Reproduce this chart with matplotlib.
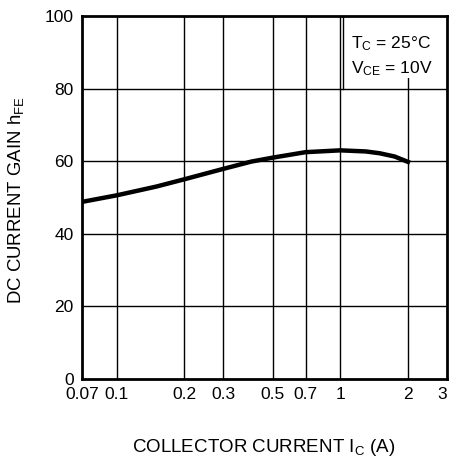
import matplotlib
matplotlib.use('Agg')
import matplotlib.pyplot as plt
from matplotlib.patches import Rectangle

plt.rcParams['font.family'] = ['Liberation Sans', 'DejaVu Sans']
plt.rcParams['mathtext.fontset'] = 'custom'
plt.rcParams['mathtext.rm'] = 'Liberation Sans'

# collector current (A) and dc current gain
ic = [0.07, 0.1, 0.15, 0.2, 0.3, 0.4, 0.5, 0.7, 1.0, 1.3, 1.5, 1.75, 2.05]
hfe = [48.8, 50.6, 53.0, 55.0, 57.9, 59.9, 61.0, 62.5, 63.0, 62.7, 62.2, 61.3, 59.6]

xticks = [0.07, 0.1, 0.2, 0.3, 0.5, 0.7, 1, 2, 3]
xticklabels = ['0.07', '0.1', '0.2', '0.3', '0.5', '0.7', '1', '2', '3']
yticks = [0, 20, 40, 60, 80, 100]

fig = plt.figure(figsize=(4.49, 4.59), dpi=100)
ax = fig.add_axes([0.1826, 0.1743, 0.8129, 0.7907])

ax.set_xscale('log')
ax.set_xlim(0.07, 3)
ax.set_ylim(0, 100)

# grid
for xv in xticks[1:-1]:
    ax.axvline(xv, color='black', lw=1.0, zorder=1)
for yv in yticks[1:-1]:
    ax.axhline(yv, color='black', lw=1.0, zorder=1)

ax.plot(ic, hfe, color='black', lw=3.2, solid_capstyle='butt', zorder=3)

# condition box top right
ax.add_patch(Rectangle((1.03, 83), 3 - 1.03, 17, facecolor='white', edgecolor='none', zorder=2))
ax.plot([1.03, 1.03], [80, 100], color='black', lw=1.0, zorder=2)
ax.text(1.12, 92.5, r'$\mathrm{T_C}$ = 25°C', fontsize=12.5, va='center', ha='left', zorder=4)
ax.text(1.12, 85.6, r'$\mathrm{V_{CE}}$ = 10V', fontsize=12.5, va='center', ha='left', zorder=4)

ax.set_xticks(xticks)
ax.set_xticklabels(xticklabels)
ax.minorticks_off()
ax.set_yticks(yticks)
ax.tick_params(length=0, labelsize=12.5)
ax.tick_params(axis='x', pad=6)
ax.tick_params(axis='y', pad=6)
for lab in ax.get_yticklabels():
    lab.set_verticalalignment('center_baseline')
xl = ax.get_xticklabels()
xl[-1].set_horizontalalignment('right')

for s in ax.spines.values():
    s.set_linewidth(2.0)

fig.text(0.038, 0.565, r'DC CURRENT GAIN h$_\mathrm{FE}$', fontsize=13.4,
         rotation=90, ha='center', va='center')
fig.text(0.587, 0.024, r'COLLECTOR CURRENT I$_\mathrm{C}$ (A)', fontsize=13.5,
         ha='center', va='center')

fig.savefig('out.png', dpi=100)
